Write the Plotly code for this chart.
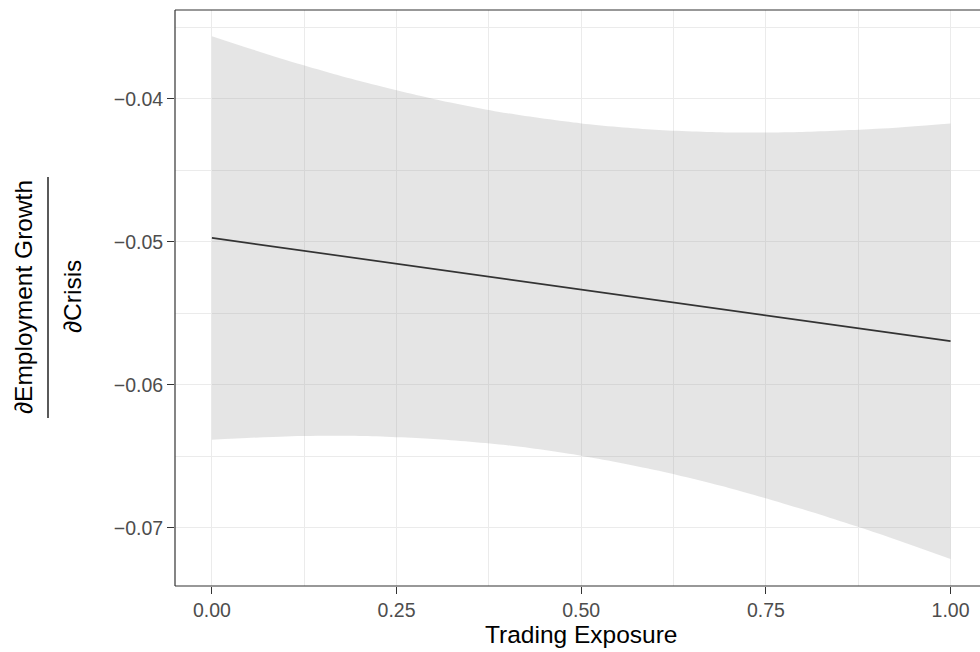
import plotly.graph_objects as go

# Values
trading_exposure = [0.0, 0.1, 0.2, 0.3, 0.4, 0.5, 0.6, 0.7, 0.8, 0.9, 1.0]
marginal_effect = [-0.04972, -0.05044, -0.05116, -0.05189, -0.05261, -0.05333,
                   -0.05405, -0.05477, -0.05550, -0.05622, -0.05694]
ci_upper = [-0.03561, -0.03728, -0.03875, -0.04000, -0.04100, -0.04171,
            -0.04215, -0.04234, -0.04231, -0.04209, -0.04171]
ci_lower = [-0.06383, -0.06360, -0.06357, -0.06378, -0.06422, -0.06495,
            -0.06595, -0.06720, -0.06869, -0.07035, -0.07217]
x_ticks = [0.0, 0.25, 0.5, 0.75, 1.0]
y_ticks = [-0.07, -0.06, -0.05, -0.04]

FONT = "Liberation Sans, Arial, Helvetica, sans-serif"
W, H = 980, 652
L, R, T, B = 175, 0, 10, 66
PW, PH = W - L - R, H - T - B

def px_x(p):
    return (p - L) / PW

def px_y(p):
    return (H - B - p) / PH

fig = go.Figure()

# confidence ribbon (lower edge, then upper edge filled to it)
fig.add_trace(go.Scatter(
    x=trading_exposure, y=ci_lower, mode="lines",
    line=dict(width=0, shape="spline", smoothing=0.8),
    hoverinfo="skip", showlegend=False,
))
fig.add_trace(go.Scatter(
    x=trading_exposure, y=ci_upper, mode="lines",
    fill="tonexty", fillcolor="rgba(153,153,153,0.25)",
    line=dict(width=0, shape="spline", smoothing=0.8),
    hoverinfo="skip", showlegend=False,
))
# estimate line
fig.add_trace(go.Scatter(
    x=trading_exposure, y=marginal_effect, mode="lines",
    line=dict(color="#333333", width=1.7), showlegend=False,
))

grid = "#EBEBEB"
fig.update_xaxes(
    range=[-0.05, -0.05 + PW / 738.6],
    tickvals=x_ticks, tickformat=".2f",
    showgrid=True, gridcolor=grid, gridwidth=1.4,
    minor=dict(dtick=0.125, tick0=0, showgrid=True, gridcolor=grid, gridwidth=0.7, ticks=""),
    ticks="outside", ticklen=7, tickwidth=1.1, tickcolor="#333333",
    tickfont=dict(family=FONT, size=19.5, color="#4D4D4D"),
    zeroline=False, showline=False,
)
fig.update_yaxes(
    range=[-0.07406, -0.03378],
    tickvals=y_ticks, tickformat=".2f",
    showgrid=True, gridcolor=grid, gridwidth=1.4,
    minor=dict(dtick=0.005, tick0=-0.075, showgrid=True, gridcolor=grid, gridwidth=0.7, ticks=""),
    ticks="outside", ticklen=7, tickwidth=1.1, tickcolor="#333333",
    tickfont=dict(family=FONT, size=19.5, color="#4D4D4D"),
    zeroline=False, showline=False,
)

border = dict(color="#333333", width=1.2)
shapes = [
    dict(type="line", xref="paper", yref="paper", x0=0, x1=0, y0=0, y1=1, line=border),
    dict(type="line", xref="paper", yref="paper", x0=0, x1=1.01, y0=1, y1=1, line=border),
    dict(type="line", xref="paper", yref="paper", x0=0, x1=1.01, y0=0, y1=0, line=border),
    # fraction bar of y title
    dict(type="line", xref="paper", yref="paper", x0=px_x(48), x1=px_x(48),
         y0=px_y(177), y1=px_y(418), line=dict(color="black", width=1.3)),
]

annotations = [
    dict(text="\u2202Employment Growth", xref="paper", yref="paper",
         x=px_x(23), y=px_y(297), xanchor="center", yanchor="middle",
         textangle=-90, showarrow=False, font=dict(family=FONT, size=24.5, color="black")),
    dict(text="\u2202Crisis", xref="paper", yref="paper",
         x=px_x(72), y=px_y(297), xanchor="center", yanchor="middle",
         textangle=-90, showarrow=False, font=dict(family=FONT, size=24.5, color="black")),
    dict(text="Trading Exposure", xref="paper", yref="paper",
         x=px_x(581), y=px_y(619), xanchor="center", yanchor="top",
         showarrow=False, font=dict(family=FONT, size=24.5, color="black")),
]

fig.update_layout(
    width=W, height=H,
    margin=dict(l=L, r=R, t=T, b=B),
    paper_bgcolor="white", plot_bgcolor="white",
    shapes=shapes, annotations=annotations,
    showlegend=False,
)

fig.write_html("out.html", config={"displayModeBar": False})

# remove the browser's default page margin so the figure sits at the window's corner
with open("out.html", "r", encoding="utf-8") as f:
    html = f.read()
html = html.replace("<body>", '<body style="margin:0;padding:0;overflow:hidden">', 1)
with open("out.html", "w", encoding="utf-8") as f:
    f.write(html)
